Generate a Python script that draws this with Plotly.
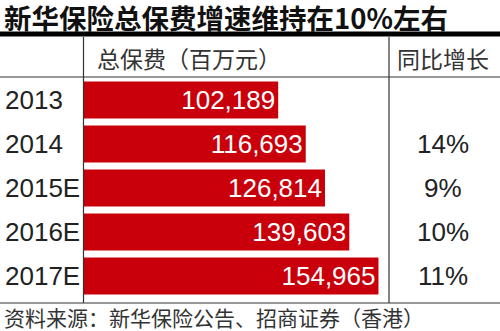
import plotly.graph_objects as go

years = ["2013", "2014", "2015E", "2016E", "2017E"]
premium = [102189, 116693, 126814, 139603, 154965]
growth = [None, 14, 9, 10, 11]

title_text = "新华保险总保费增速维持在10%左右"
col1_header = "总保费（百万元）"
col2_header = "同比增长"
source_text = "资料来源：新华保险公告、招商证券（香港）"

W, H = 500, 331
L, R, T, B = 84, 111, 78, 33
PW, PH = W - L - R, H - T - B

def px_x(px):
    return (px - L) / PW

def px_y(py):
    return (H - B - py) / PH

FONT = "Liberation Sans, Arial, Noto Sans CJK SC, sans-serif"
CJK = "Noto Sans CJK SC, Liberation Sans, sans-serif"
RED = "#c9000b"
TXT = "#222222"

fig = go.Figure()
fig.add_trace(go.Bar(
    y=years, x=premium, orientation="h",
    marker=dict(color=RED, line=dict(width=0)),
    text=[f"{v:,}" for v in premium],
    textposition="inside", insidetextanchor="end",
    textfont=dict(family=FONT, size=26, color="white"),
    cliponaxis=False, hoverinfo="skip",
))

annotations = []
for i, yr in enumerate(years):
    annotations.append(dict(x=px_x(3), xref="paper", y=i, yref="y",
                            text=yr, showarrow=False, xanchor="left", yanchor="middle",
                            font=dict(family=FONT, size=26, color=TXT)))
for i, g in enumerate(growth):
    if g is None:
        continue
    annotations.append(dict(x=px_x(442.5), xref="paper", y=i, yref="y",
                            text=f"{g}%", showarrow=False, xanchor="center", yanchor="middle",
                            font=dict(family=FONT, size=26, color=TXT)))

annotations += [
    dict(x=px_x(2), xref="paper", y=px_y(17), yref="paper", text=f"<b>{title_text}</b>",
         showarrow=False, xanchor="left", yanchor="middle",
         font=dict(family=CJK, size=27.5, color="#111111")),
    dict(x=px_x(95), xref="paper", y=px_y(58), yref="paper", text=col1_header,
         showarrow=False, xanchor="left", yanchor="middle",
         font=dict(family=CJK, size=23, color="#333333")),
    dict(x=px_x(443), xref="paper", y=px_y(58), yref="paper", text=col2_header,
         showarrow=False, xanchor="center", yanchor="middle",
         font=dict(family=CJK, size=23, color="#333333")),
    dict(x=px_x(2), xref="paper", y=px_y(317), yref="paper", text=source_text,
         showarrow=False, xanchor="left", yanchor="middle",
         font=dict(family=CJK, size=21, color="#333333")),
]

shapes = [
    dict(type="line", xref="paper", yref="paper", x0=px_x(0), x1=px_x(500),
         y0=px_y(34), y1=px_y(34), line=dict(color="black", width=5)),
    dict(type="line", xref="paper", yref="paper", x0=px_x(0), x1=px_x(500),
         y0=px_y(77), y1=px_y(77), line=dict(color="#333333", width=1.2)),
    dict(type="line", xref="paper", yref="paper", x0=px_x(0), x1=px_x(500),
         y0=px_y(303), y1=px_y(303), line=dict(color="#333333", width=1.2)),
    dict(type="line", xref="paper", yref="paper", x0=px_x(83.5), x1=px_x(83.5),
         y0=px_y(37), y1=px_y(303), line=dict(color="#333333", width=1.2)),
    dict(type="line", xref="paper", yref="paper", x0=px_x(389), x1=px_x(389),
         y0=px_y(37), y1=px_y(303), line=dict(color="#333333", width=1.2)),
]

fig.update_layout(
    width=W, height=H,
    margin=dict(l=L, r=R, t=T, b=B, pad=0),
    paper_bgcolor="white", plot_bgcolor="white",
    bargap=0.16, showlegend=False,
    xaxis=dict(range=[0, 160500], visible=False, fixedrange=True),
    yaxis=dict(type="category", categoryorder="array", categoryarray=years,
               range=[len(years) - 0.5, -0.5], autorange=False,
               showticklabels=False, showgrid=False,
               zeroline=False, showline=False, ticks="", fixedrange=True),
    annotations=annotations, shapes=shapes,
    uniformtext=dict(mode=False),
)

fig.write_html("out.html", config={"displayModeBar": False})
